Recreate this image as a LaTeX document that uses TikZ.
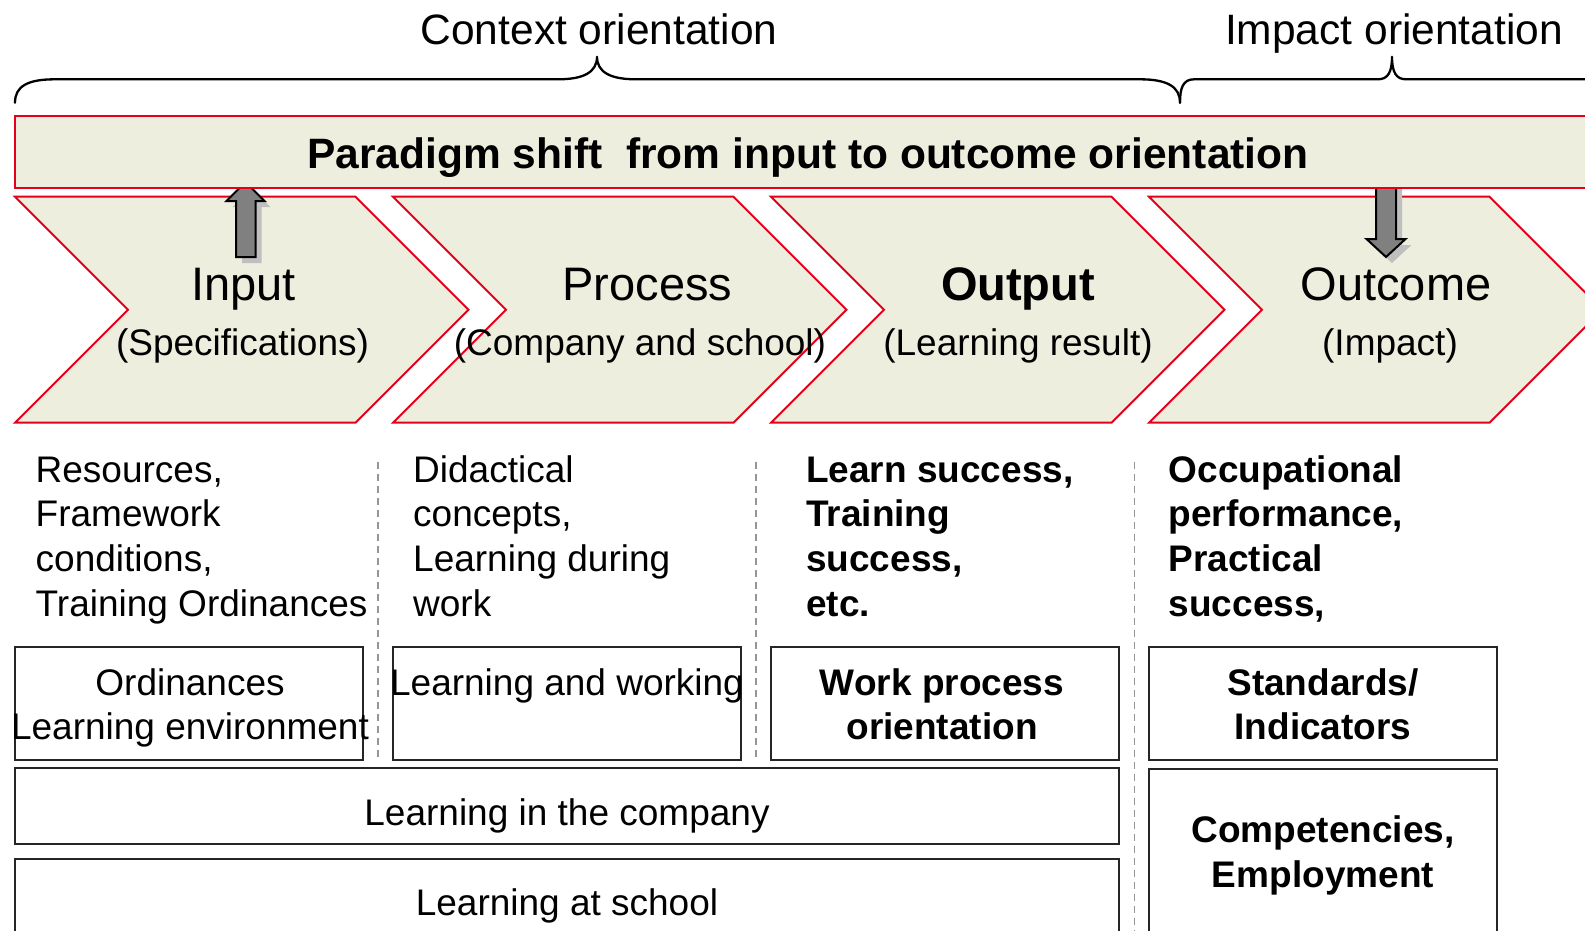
\documentclass[tikz,border=0pt]{standalone}
\usepackage{fontspec}
\setmainfont{Liberation Sans}
\newcommand\mylines[2]{\begin{tabular}[t]{@{}#1@{}}#2\end{tabular}}
\definecolor{chevred}{RGB}{226,0,26}
\definecolor{chevfill}{RGB}{238,238,222}
\definecolor{arrowgray}{RGB}{128,128,128}
\definecolor{dashgray}{RGB}{150,150,150}
\tikzset{
  redshape/.style={draw=chevred, fill=chevfill, line width=2pt, line join=miter},
  blackbox/.style={draw=black!85, line width=2pt},
  sepline/.style={draw=dashgray, line width=1.5pt, dash pattern=on 7pt off 5pt},
  bracestyle/.style={draw=black, line width=2.3pt, line cap=round, line join=round},
  blockarrow/.style={draw=black, fill=arrowgray, line width=2pt, line join=miter},
  arrowshadow/.style={fill=black!25},
  toptxt/.style={font=\fontsize{42.5}{50}\selectfont, anchor=base, inner sep=0pt},
  partxt/.style={font=\fontsize{42.5}{50}\selectfont\bfseries, anchor=base, inner sep=0pt},
  titletxt/.style={font=\fontsize{47}{56}\selectfont, anchor=base, inner sep=0pt},
  subtxt/.style={font=\fontsize{37}{44.8}\selectfont, anchor=base, inner sep=0pt},
  bodytxt/.style={font=\fontsize{37}{44.8}\selectfont, anchor=base west, inner sep=0pt},
  boldbody/.style={font=\fontsize{37}{44.8}\selectfont\bfseries, anchor=base west, inner sep=0pt},
  boxtxt/.style={font=\fontsize{37}{44.8}\selectfont, anchor=base, inner sep=0pt},
  boldboxtxt/.style={font=\fontsize{37}{44.8}\selectfont\bfseries, anchor=base, inner sep=0pt}
}
\begin{document}
\begin{tikzpicture}[x=1pt,y=-1pt]
\useasboundingbox (0,0) rectangle (1585,930);
\clip (0,0) rectangle (1585,930);
\fill[white] (0,0) rectangle (1585,930);

% braces
\draw[bracestyle] (15,102.7) .. controls (15,86) and (28,79.3) .. (55,79.3)
  -- (558,79.3) .. controls (584,79.3) and (597,72) .. (597,56.7)
  .. controls (597,72) and (610,79.3) .. (636,79.3)
  -- (1140,79.3) .. controls (1166,79.3) and (1180,86) .. (1180,102.7);
\draw[bracestyle] (1180,102.7) .. controls (1180,88) and (1183,79.3) .. (1194,79.3)
  -- (1378,79.3) .. controls (1388,79.3) and (1392,72) .. (1392,56.7)
  .. controls (1392,72) and (1396,79.3) .. (1406,79.3) -- (1620,79.3);

% chevrons
\foreach \i in {0,1,2,3}{
  \pgfmathsetmacro\L{15+378*\i}
  \path[redshape] (\L,196.7) -- (\L+340.5,196.7) -- (\L+453.5,309.7)
     -- (\L+340.5,422.7) -- (\L,422.7) -- (\L+113,309.7) -- cycle;
}

% block arrows with shadows
\fill[arrowshadow] (251.5,189) -- (270.5,207) -- (261.5,207) -- (261.5,263)
   -- (242,263) -- (242,207) -- (232.5,207) -- cycle;
\path[blockarrow] (245.5,182) -- (264.5,201) -- (255.5,201) -- (255.5,257)
   -- (236,257) -- (236,201) -- (226.5,201) -- cycle;
\fill[arrowshadow] (1382,186) -- (1402,186) -- (1402,245) -- (1411.5,245)
   -- (1392,263) -- (1372.5,245) -- (1382,245) -- cycle;
\path[blockarrow] (1376,180) -- (1396,180) -- (1396,239) -- (1405.5,239)
   -- (1386,257) -- (1366.5,239) -- (1376,239) -- cycle;

% paradigm bar
\path[redshape] (15,115.5) rectangle (1620,187.5);

% headings
\node[toptxt] (ctx) at (599,44.5) {Context orientation};
\node[toptxt] (imp) at (1394,44.5) {Impact orientation};
\node[partxt] (par) at (808,168) {Paradigm shift\ \ from input to outcome orientation};

\node[titletxt] (tin)  at (243.5,300) {Input};
\node[titletxt] (tpro) at (647.5,300) {Process};
\node[titletxt, font=\fontsize{47}{56}\selectfont\bfseries] (tout) at (1018,300) {Output};
\node[titletxt] (toc)  at (1396,300) {Outcome};
\node[subtxt] (sin)  at (242.5,355) {(Specifications)};
\node[subtxt] (spro) at (640,355) {(Company and school)};
\node[subtxt] (sout) at (1018,355) {(Learning result)};
\node[subtxt] (soc)  at (1390,355) {(Impact)};

% column descriptions
\node[bodytxt] (d1) at (35.5,482) {\mylines{l}{Resources,\\Framework\\conditions,\\Training Ordinances}};
\node[bodytxt] (d2) at (413,482) {\mylines{l}{Didactical\\concepts,\\Learning during\\work}};
\node[boldbody] (d3) at (806,482) {\mylines{l}{Learn success,\\Training\\success,\\etc.}};
\node[boldbody] (d4) at (1168.5,482) {\mylines{l}{Occupational\\performance,\\Practical\\success,}};

% separators
\draw[sepline] (378,462) -- (378,760);
\draw[sepline] (756,462) -- (756,760);
\draw[sepline] (1134.5,462) -- (1134.5,935);

% boxes
\foreach \i in {0,1,2,3}{
  \pgfmathsetmacro\L{15+378*\i}
  \draw[blackbox] (\L,647.3) rectangle (\L+348,759.7);
}
\draw[blackbox] (15,768.3) rectangle (1119,844);
\draw[blackbox] (15,859) rectangle (1119,945);
\draw[blackbox] (1149,769) rectangle (1497,945);

\node[boxtxt] (b1) at (190,695) {\mylines{c}{Ordinances\\Learning environment}};
\node[boxtxt] (b2) at (567,695) {Learning and working};
\node[boldboxtxt] (b3) at (942,695) {\mylines{c}{Work process\\orientation}};
\node[boldboxtxt] (b4) at (1323,695) {\mylines{c}{Standards/\\Indicators}};
\node[boxtxt] (b5) at (567,825) {Learning in the company};
\node[boxtxt] (b6) at (567,915) {Learning at school};
\node[boldboxtxt] (b7) at (1323,842.5) {\mylines{c}{Competencies,\\Employment}};
\end{tikzpicture}
\end{document}
